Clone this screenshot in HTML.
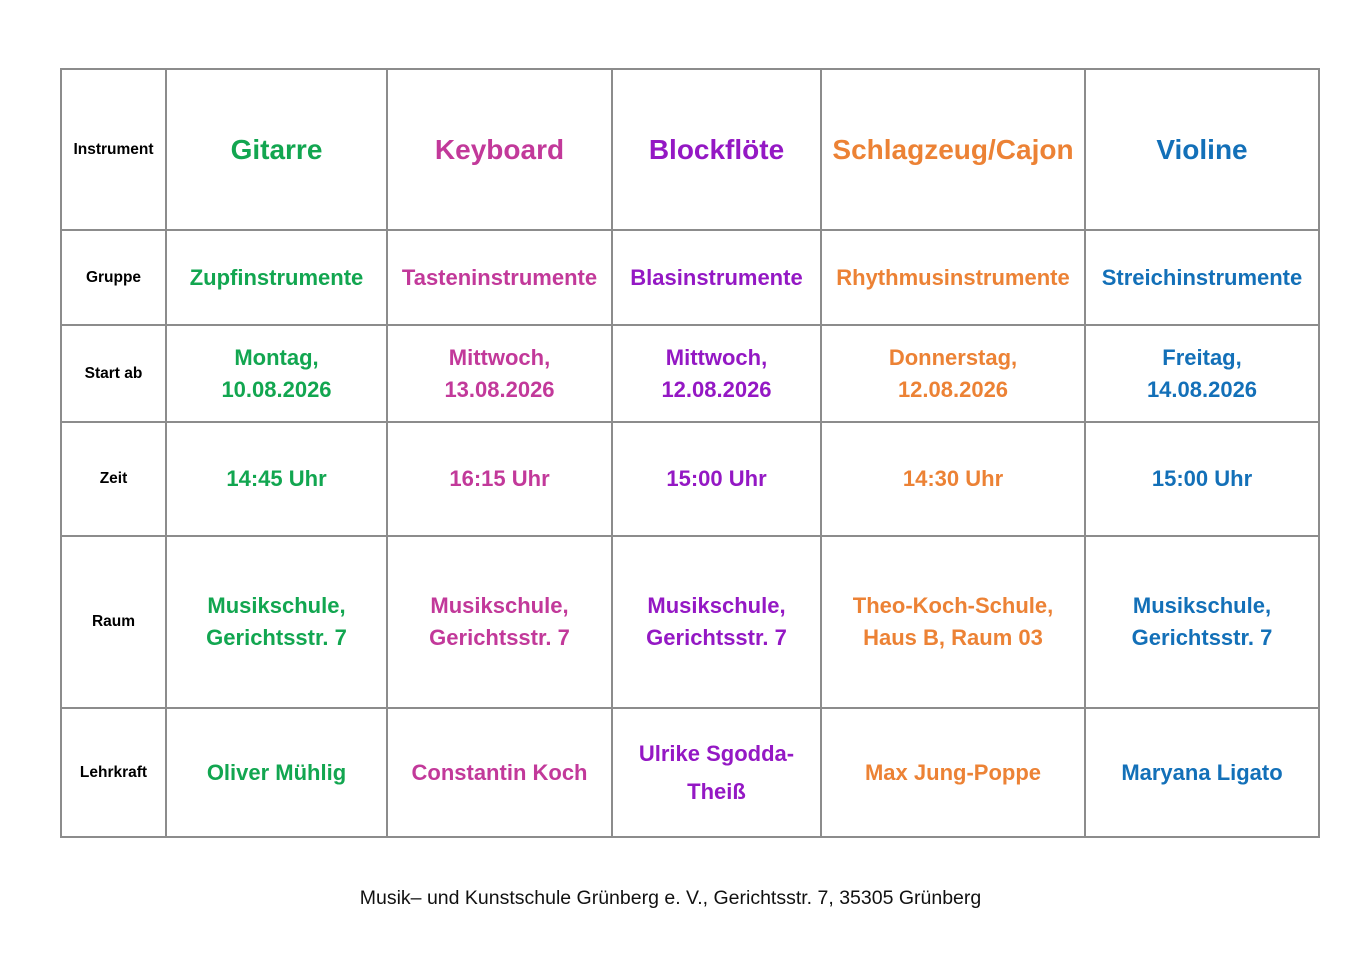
<!DOCTYPE html>
<html><head><meta charset="utf-8"><style>
body{margin:0;background:#fff;width:1366px;height:966px;position:relative;font-family:"Liberation Sans",sans-serif;}
table{position:absolute;left:60px;top:68px;width:1258px;border-collapse:collapse;table-layout:fixed;}
td{border:2px solid #8c8c8c;text-align:center;vertical-align:middle;font-weight:bold;font-size:22px;line-height:32px;padding:0;overflow:hidden;white-space:nowrap;}
tr.h td{font-size:28px;}
tr td.l{font-size:15.5px;color:#000;}
.g{color:#12a650}.p{color:#c2399a}.v{color:#9418c4}.o{color:#ec8235}.b{color:#1370b8}
.foot{position:absolute;top:887px;left:0;width:1341px;text-align:center;font-size:19.5px;color:#111;}
</style></head><body>
<table>
<colgroup><col style="width:105px"><col style="width:221px"><col style="width:225px"><col style="width:209px"><col style="width:264px"><col style="width:234px"></colgroup>
<tr class="h" style="height:161px"><td class="l">Instrument</td><td class="g">Gitarre</td><td class="p">Keyboard</td><td class="v">Blockflöte</td><td class="o">Schlagzeug/Cajon</td><td class="b">Violine</td></tr>
<tr style="height:95px"><td class="l">Gruppe</td><td class="g">Zupfinstrumente</td><td class="p">Tasteninstrumente</td><td class="v">Blasinstrumente</td><td class="o">Rhythmusinstrumente</td><td class="b">Streichinstrumente</td></tr>
<tr style="height:97px"><td class="l">Start ab</td><td class="g">Montag,<br>10.08.2026</td><td class="p">Mittwoch,<br>13.08.2026</td><td class="v">Mittwoch,<br>12.08.2026</td><td class="o">Donnerstag,<br>12.08.2026</td><td class="b">Freitag,<br>14.08.2026</td></tr>
<tr style="height:114px"><td class="l">Zeit</td><td class="g">14:45 Uhr</td><td class="p">16:15 Uhr</td><td class="v">15:00 Uhr</td><td class="o">14:30 Uhr</td><td class="b">15:00 Uhr</td></tr>
<tr style="height:172px"><td class="l">Raum</td><td class="g">Musikschule,<br>Gerichtsstr. 7</td><td class="p">Musikschule,<br>Gerichtsstr. 7</td><td class="v">Musikschule,<br>Gerichtsstr. 7</td><td class="o">Theo-Koch-Schule,<br>Haus B, Raum 03</td><td class="b">Musikschule,<br>Gerichtsstr. 7</td></tr>
<tr style="height:129px"><td class="l">Lehrkraft</td><td class="g">Oliver Mühlig</td><td class="p">Constantin Koch</td><td class="v" style="line-height:38px">Ulrike Sgodda-<br>Theiß</td><td class="o">Max Jung-Poppe</td><td class="b">Maryana Ligato</td></tr>
</table>
<div class="foot">Musik– und Kunstschule Grünberg e. V., Gerichtsstr. 7, 35305 Grünberg</div>
</body></html>
